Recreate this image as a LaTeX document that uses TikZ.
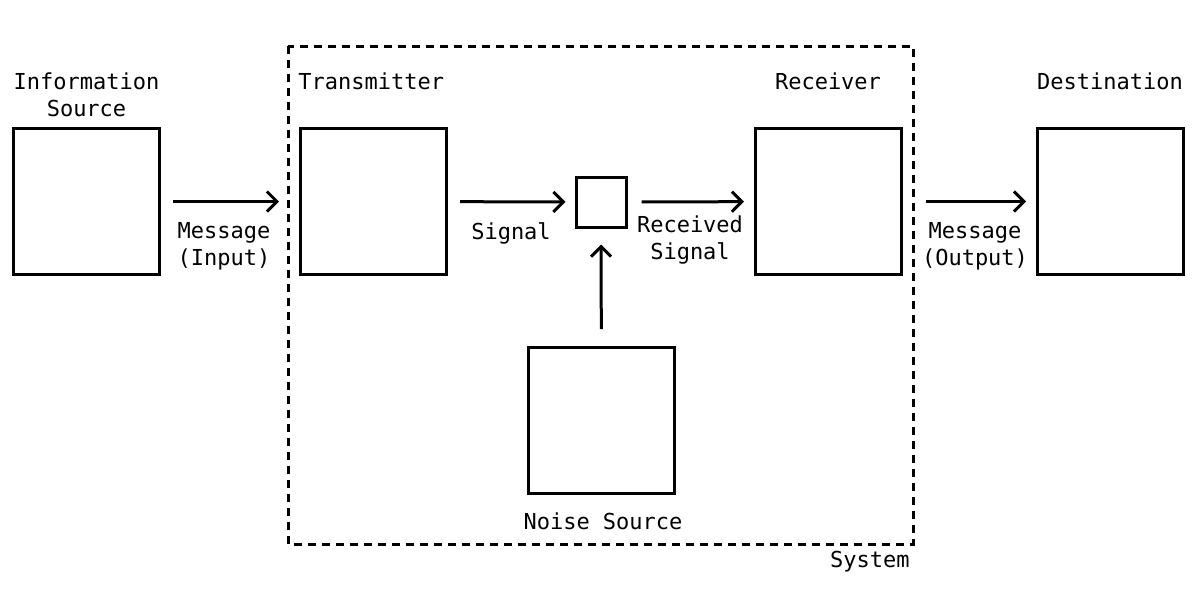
\documentclass[tikz,border=0pt]{standalone}
\usepackage{fontspec}
\setmonofont{DejaVu Sans Mono}
\usetikzlibrary{arrows.meta}
\tikzset{
  blk/.style={draw, line width=1.5pt, minimum width=73pt, minimum height=73pt, inner sep=0pt},
  sblk/.style={draw, line width=1.5pt, minimum width=25pt, minimum height=25pt, inner sep=0pt},
  lbl/.style={font=\ttfamily\fontsize{11pt}{13.5pt}\selectfont, inner sep=0pt, align=center},
  conn/.style={line width=1.5pt, -{Straight Barb[length=5pt,width=10pt,line width=1.5pt]}},
  sys/.style={draw, line width=1.5pt, dash pattern=on 4pt off 3pt}
}
\begin{document}
\begin{tikzpicture}[x=0.5pt,y=-0.5pt]
\useasboundingbox (0,0) rectangle (1200,601);
% system box
\draw[sys] (288,46) rectangle (913,544);
% blocks
\node[blk] (src) at (86.5,201.5) {};
\node[blk] (tx) at (373.5,201.5) {};
\node[sblk] (mix) at (601,202) {};
\node[blk] (rx) at (828.5,201.5) {};
\node[blk] (dst) at (1110.5,201.5) {};
\node[blk] (noise) at (601.5,420.5) {};
% labels
\node[lbl] (lsrc) at (86.5,95) {Information\\Source};
\node[lbl, anchor=west] (ltx) at (298,81) {Transmitter};
\node[lbl] (lrx) at (828,81) {Receiver};
\node[lbl] (ldst) at (1110,81) {Destination};
\node[lbl] (lm1) at (224,246) {Message\\(Input)};
\node[lbl] (lsig) at (511,233) {Signal};
\node[lbl] (lrs) at (690,240) {Received\\Signal};
\node[lbl] (lm2) at (975,246) {Message\\(Output)};
\node[lbl] (lns) at (603,521) {Noise Source};
\node[lbl, anchor=east] (lsys) at (910,562) {System};
% connectors
\draw[conn, shorten <=6pt, shorten >=10pt] (src) -- (tx);
\draw[conn, shorten <=6pt, shorten >=4.5pt] (tx) -- (mix);
\draw[conn, shorten <=7pt, shorten >=5pt] (mix) -- (rx);
\draw[conn, shorten <=11.5pt, shorten >=5pt] (rx) -- (dst);
\draw[conn, shorten <=8.5pt, shorten >=8pt] (noise) -- (mix);
\end{tikzpicture}
\end{document}
